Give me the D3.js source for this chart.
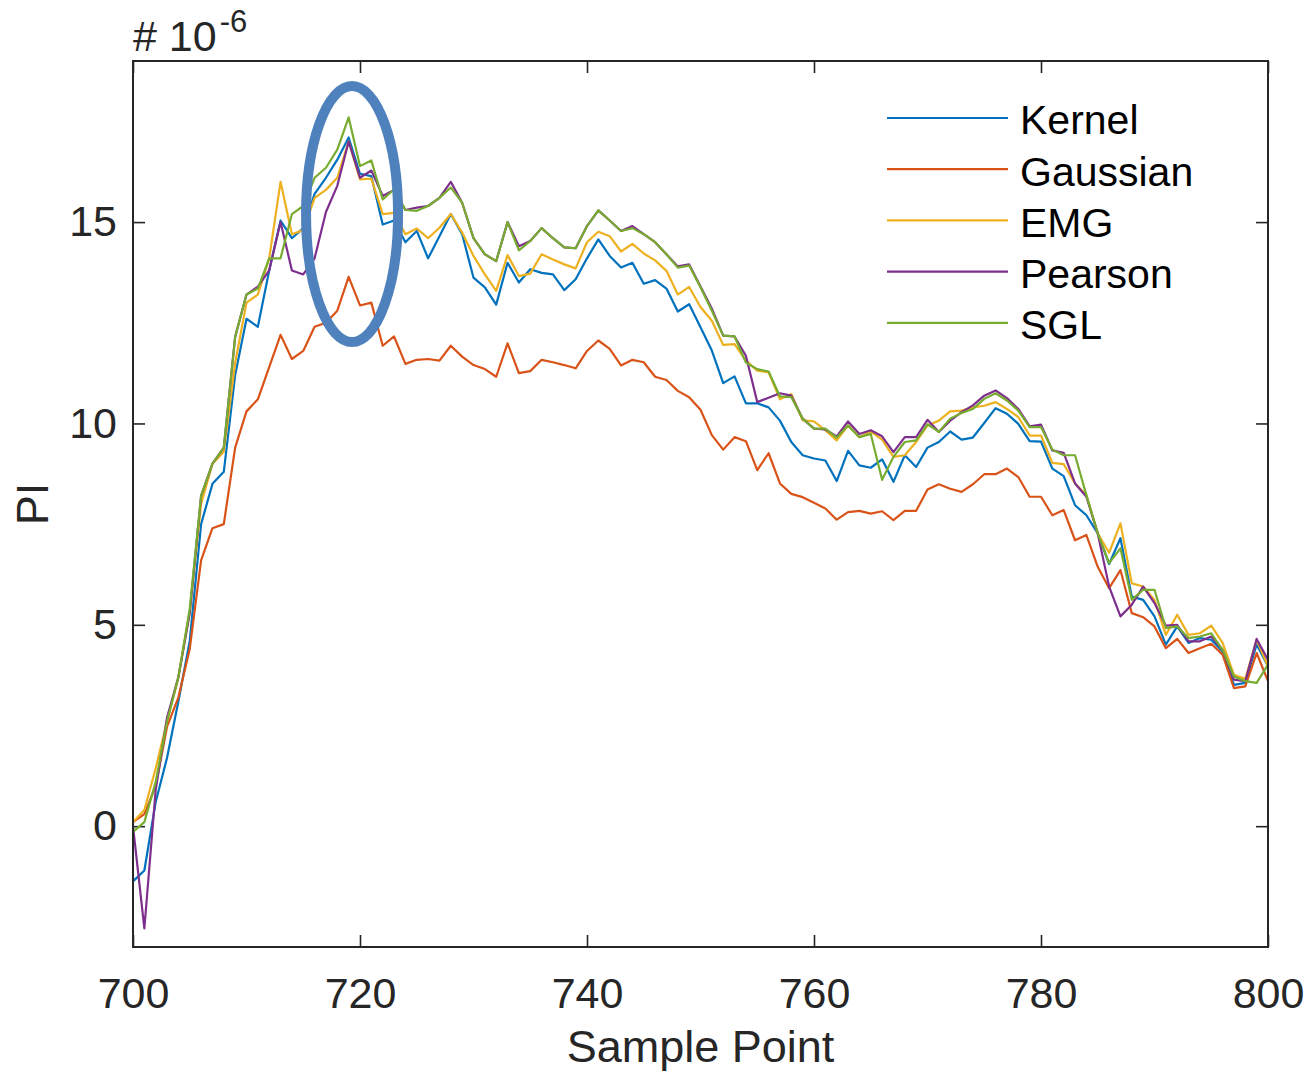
<!DOCTYPE html>
<html>
<head>
<meta charset="utf-8">
<script src="https://cdn.jsdelivr.net/npm/d3@7"></script>
<style>
  html, body { margin: 0; padding: 0; background: #fff; }
  svg { display: block; font-family: "Liberation Sans", Arial, Helvetica, sans-serif; }
  .axis text { fill: #262626; }
  .axis line { stroke: #262626; stroke-width: 1.6; }
</style>
</head>
<body>
<svg id="chart" width="1309" height="1072"></svg>
<script>
// sample points 700..800
const samplePoints = d3.range(700, 801);

// PI values (x 1e-6), one per sample point
const kernel = [
  -1.37, -1.1, 0.6, 1.7, 3.1, 4.6, 7.5, 8.5, 8.8, 11.2,
  12.6, 12.4, 13.8, 15.04, 14.6, 14.85, 15.7, 16.1, 16.55, 17.1,
  16.2, 16.14, 14.94, 15.04, 14.5, 14.78, 14.1, 14.65, 15.2, 14.7,
  13.62, 13.38, 12.95, 13.99, 13.5, 13.83, 13.74, 13.7, 13.31, 13.58,
  14.1, 14.57, 14.16, 13.87, 13.99, 13.47, 13.56, 13.35, 12.78, 12.96,
  12.39, 11.81, 11.0, 11.17, 10.5, 10.5, 10.4, 10.07, 9.54, 9.21,
  9.13, 9.08, 8.57, 9.32, 8.96, 8.9, 9.11, 8.55, 9.21, 8.92,
  9.4, 9.54, 9.8, 9.6, 9.65, 10.01, 10.38, 10.24, 9.99, 9.56,
  9.55, 8.88, 8.69, 7.97, 7.72, 7.27, 6.51, 7.15, 5.7, 5.62,
  5.21, 4.51, 4.96, 4.55, 4.67, 4.63, 4.34, 3.51, 3.56, 4.51,
  3.97
];
const gaussian = [
  0.1, 0.3, 1.0, 2.47, 3.2, 4.4, 6.6, 7.4, 7.5, 9.4,
  10.3, 10.6, 11.4, 12.2, 11.6, 11.8, 12.4, 12.5, 12.8, 13.64,
  12.93, 13.0, 11.93, 12.16, 11.48, 11.58, 11.6, 11.56, 11.93, 11.66,
  11.45, 11.35, 11.16, 11.99, 11.25, 11.3, 11.58, 11.52, 11.45, 11.37,
  11.8, 12.06, 11.85, 11.44, 11.58, 11.52, 11.16, 11.08, 10.81, 10.65,
  10.34, 9.71, 9.35, 9.66, 9.56, 8.84, 9.26, 8.51, 8.25, 8.17,
  8.03, 7.89, 7.61, 7.8, 7.83, 7.76, 7.82, 7.6, 7.83, 7.83,
  8.36, 8.49, 8.38, 8.3, 8.49, 8.74, 8.74, 8.88, 8.67, 8.18,
  8.18, 7.72, 7.85, 7.1, 7.23, 6.44, 5.91, 6.36, 5.29, 5.19,
  4.96, 4.42, 4.65, 4.3, 4.42, 4.53, 4.26, 3.43, 3.47, 4.3,
  3.6
];
const emg = [
  0.1, 0.4, 1.44, 2.6, 3.7, 5.3, 8.0, 9.0, 9.3, 11.5,
  13.0, 13.2, 14.1, 16.0, 14.7, 14.8, 15.6, 15.8, 16.1, 17.0,
  16.06, 16.08, 15.2, 15.23, 14.7, 14.84, 14.6, 14.86, 15.2, 14.74,
  14.16, 13.7, 13.29, 14.18, 13.66, 13.72, 14.2, 14.07, 13.95, 13.85,
  14.5, 14.76, 14.65, 14.27, 14.46, 14.22, 14.05, 13.79, 13.2, 13.39,
  12.89, 12.55, 11.95, 11.97, 11.56, 11.31, 11.27, 10.6, 10.73, 10.08,
  10.05, 9.83, 9.58, 9.95, 9.66, 9.8, 9.6, 9.17, 9.21, 9.54,
  9.95, 10.07, 10.3, 10.32, 10.4, 10.44, 10.53, 10.36, 10.16, 9.7,
  9.7, 9.02, 8.99, 8.51, 8.22, 7.27, 6.79, 7.52, 6.03, 5.95,
  5.62, 4.75, 5.25, 4.75, 4.79, 4.98, 4.55, 3.76, 3.66, 4.63,
  3.97
];
const pearson = [
  0.0, -2.54, 0.9, 2.7, 3.7, 5.3, 8.2, 9.0, 9.4, 12.15,
  13.2, 13.4, 13.8, 15.0, 13.8, 13.7, 14.1, 15.25, 15.9, 17.0,
  16.1, 16.28, 15.65, 15.8, 15.3, 15.36, 15.4, 15.6, 16.0, 15.48,
  14.6, 14.2, 14.03, 15.0, 14.4, 14.53, 14.85, 14.6, 14.37, 14.35,
  14.9, 15.29, 15.04, 14.78, 14.9, 14.7, 14.5, 14.2, 13.9, 13.95,
  13.4, 12.85, 12.18, 12.16, 11.68, 10.53, 10.64, 10.75, 10.69, 10.12,
  9.87, 9.85, 9.68, 10.05, 9.74, 9.83, 9.68, 9.29, 9.66, 9.66,
  10.09, 9.79, 10.07, 10.28, 10.45, 10.69, 10.82, 10.63, 10.36, 9.93,
  9.97, 9.33, 9.27, 8.51, 8.18, 7.27, 5.95, 5.21, 5.5, 5.95,
  5.54, 4.98, 5.0, 4.59, 4.59, 4.71, 4.38, 3.64, 3.6, 4.65,
  4.13
];
const sgl = [
  -0.14, 0.1, 1.1, 2.6, 3.7, 5.4, 8.2, 9.0, 9.4, 12.15,
  13.2, 13.35, 14.1, 14.1, 15.2, 15.4, 16.1, 16.35, 16.8, 17.6,
  16.39, 16.53, 15.56, 15.81, 15.3, 15.28, 15.4, 15.6, 15.86, 15.48,
  14.6, 14.2, 14.03, 15.0, 14.3, 14.53, 14.85, 14.6, 14.37, 14.35,
  14.9, 15.29, 15.04, 14.78, 14.85, 14.7, 14.5, 14.2, 13.87, 13.92,
  13.38, 12.8, 12.18, 12.16, 11.51, 11.35, 11.29, 10.67, 10.65, 10.12,
  9.87, 9.87, 9.65, 9.95, 9.66, 9.74, 8.6, 9.17, 9.54, 9.58,
  9.98, 9.79, 10.12, 10.26, 10.36, 10.61, 10.75, 10.57, 10.32, 9.91,
  9.91, 9.35, 9.21, 9.21, 8.22, 7.27, 6.53, 6.9, 5.62, 5.87,
  5.87, 4.92, 4.96, 4.67, 4.71, 4.79, 4.38, 3.72, 3.6, 3.56,
  4.01
];

const seriesNames = ['Kernel', 'Gaussian', 'EMG', 'Pearson', 'SGL'];
const seriesValues = [kernel, gaussian, emg, pearson, sgl];
const seriesColors = ['#0072BD', '#D95319', '#EDB120', '#7E2F8E', '#77AC30'];

const xTicks = [700, 720, 740, 760, 780, 800];
const yTicks = [0, 5, 10, 15];

// highlighted region (data units)
const markCenter = { x: 719.3, y: 15.2 };

const margin = { top: 61, right: 41, bottom: 125, left: 133 };
const W = 1309, H = 1072;
const width = W - margin.left - margin.right;
const height = H - margin.top - margin.bottom;

const svg = d3.select('#chart');
const g = svg.append('g').attr('transform', `translate(${margin.left},${margin.top})`);

const x = d3.scaleLinear().domain([700, 800]).range([0, width]);
const y = d3.scaleLinear().domain([-3, 19]).range([height, 0]);

const TICK = 12;

// axes, ticks pointing inward (box style)
const xAxis = g.append('g').attr('class', 'axis')
  .attr('transform', `translate(0,${height})`)
  .call(d3.axisBottom(x).tickValues(xTicks).tickSize(-TICK).tickPadding(30));
g.append('g').attr('class', 'axis')
  .call(d3.axisTop(x).tickValues(xTicks).tickSize(-TICK).tickFormat(''));
const yAxis = g.append('g').attr('class', 'axis')
  .call(d3.axisLeft(y).tickValues(yTicks).tickSize(-TICK).tickPadding(16));
g.append('g').attr('class', 'axis')
  .attr('transform', `translate(${width},0)`)
  .call(d3.axisRight(y).tickValues(yTicks).tickSize(-TICK).tickFormat(''));

g.selectAll('.axis .domain').remove();
xAxis.selectAll('text').attr('font-size', 43).attr('font-family', null);
yAxis.selectAll('text').attr('font-size', 43).attr('font-family', null);

// lines
const line = d3.line()
  .x((d, i) => x(samplePoints[i]))
  .y((d) => y(d));

g.append('g').attr('class', 'lines')
  .selectAll('path')
  .data(seriesValues)
  .join('path')
  .attr('fill', 'none')
  .attr('stroke', (d, i) => seriesColors[i])
  .attr('stroke-width', 2.2)
  .attr('stroke-linejoin', 'round')
  .attr('d', line);

// box
g.append('rect')
  .attr('width', width)
  .attr('height', height)
  .attr('fill', 'none')
  .attr('stroke', '#262626')
  .attr('stroke-width', 2);

// annotation ellipse
g.append('ellipse')
  .attr('cx', x(markCenter.x))
  .attr('cy', y(markCenter.y))
  .attr('rx', 46)
  .attr('ry', 128)
  .attr('fill', 'none')
  .attr('stroke', '#4F81BD')
  .attr('stroke-width', 10);

// legend
const legend = g.append('g').attr('transform', 'translate(754,57)');
const rows = legend.selectAll('g')
  .data(seriesNames)
  .join('g')
  .attr('transform', (d, i) => `translate(0,${i * 51.2})`);
rows.append('line')
  .attr('x1', 0).attr('x2', 121)
  .attr('stroke', (d, i) => seriesColors[i])
  .attr('stroke-width', 2.2);
rows.append('text')
  .attr('x', 133)
  .attr('dy', '0.4em')
  .attr('font-size', 41)
  .attr('fill', '#000')
  .text((d) => d);

// axis labels
svg.append('text')
  .attr('x', margin.left + width / 2)
  .attr('y', 1062)
  .attr('text-anchor', 'middle')
  .attr('font-size', 45)
  .attr('fill', '#262626')
  .text('Sample Point');

svg.append('text')
  .attr('transform', `translate(48,${margin.top + height / 2}) rotate(-90)`)
  .attr('text-anchor', 'middle')
  .attr('font-size', 45)
  .attr('fill', '#262626')
  .text('PI');

// exponent label
const expo = svg.append('text')
  .attr('x', margin.left)
  .attr('y', 51)
  .attr('font-size', 43)
  .attr('fill', '#262626');
expo.append('tspan').text('# 10');
expo.append('tspan').attr('dy', -19).attr('dx', 3).attr('font-size', 31).text('-6');
</script>
</body>
</html>
